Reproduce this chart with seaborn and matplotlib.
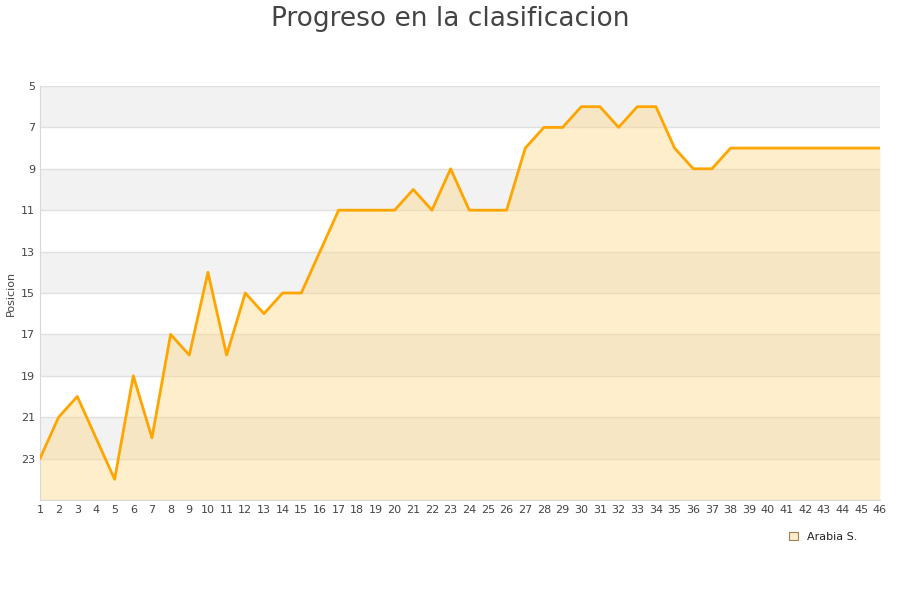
import pandas as pd
import matplotlib
matplotlib.use('Agg')
import matplotlib.pyplot as plt
import seaborn as sns
from matplotlib.patches import Patch

# Data: position per matchday
jornadas = list(range(1, 47))
posiciones = [23, 21, 20, 22, 24, 19, 22, 17, 18, 14,
              18, 15, 16, 15, 15, 13, 11, 11, 11, 11,
              10, 11, 9, 11, 11, 11, 8, 7, 7, 6,
              6, 7, 6, 6, 8, 9, 9, 8, 8, 8,
              8, 8, 8, 8, 8, 8]
y_ticks = [5, 7, 9, 11, 13, 15, 17, 19, 21, 23]
equipo = 'Arabia S.'

df = pd.DataFrame({'jornada': jornadas, 'posicion': posiciones})

sns.set_style('white')
plt.rcParams['font.family'] = ['DejaVu Sans']

fig = plt.figure(figsize=(9, 6), dpi=100)
ax = fig.add_axes([0.0444, 0.1667, 0.9333, 0.69])

# alternating grey bands
for lo in range(5, 25, 4):
    ax.axhspan(lo, lo + 2, color='#f2f2f2', zorder=0, lw=0)
for t in y_ticks + [25]:
    ax.axhline(t, color='#e0e0e0', lw=1, zorder=1)

ax.fill_between(df['jornada'], df['posicion'], 25, color='#ffd580', alpha=0.4, lw=0, zorder=2)
sns.lineplot(data=df, x='jornada', y='posicion', color='#ffa500', lw=2, ax=ax, zorder=3)

ax.set_xlim(1, 46)
ax.set_ylim(25, 5)
ax.set_xticks(jornadas)
ax.set_yticks(y_ticks)
ax.tick_params(axis='both', labelsize=8, colors='#444444', length=0)
ax.set_xlabel('')
ax.set_ylabel('Posicion', fontsize=8, color='#444444')
for side in ['top', 'right']:
    ax.spines[side].set_visible(False)
for side in ['left', 'bottom']:
    ax.spines[side].set_color('#d8d8d8')

fig.suptitle('Progreso en la clasificacion', fontsize=19, color='#444444', y=0.99)

handles = [Patch(facecolor='#ffeccc', edgecolor='#a08050', lw=0.8, label=equipo)]
fig.legend(handles=handles, loc='center', bbox_to_anchor=(0.915, 0.105), frameon=False,
           fontsize=8, handlelength=0.8, handleheight=0.8, labelcolor='#222222')

fig.savefig('out.png', dpi=100)
